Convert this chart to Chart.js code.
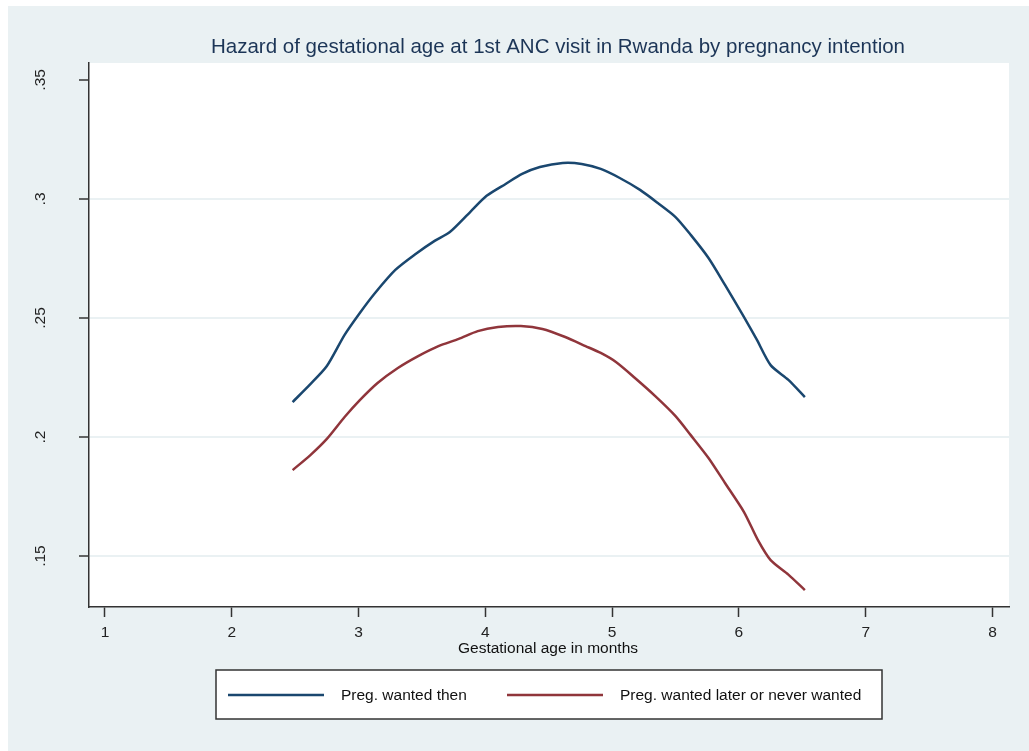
<!DOCTYPE html>
<html>
<head>
<meta charset="utf-8">
<script src="https://cdn.jsdelivr.net/npm/chart.js@4.4.0/dist/chart.umd.min.js"></script>
<style>
  html, body { margin: 0; padding: 0; background: #ffffff; }
  #wrap { width: 1029px; height: 751px; }
</style>
</head>
<body>
<div id="wrap"><canvas id="myChart" width="1029" height="751"></canvas></div>
<script>
// chart text
const chartTitle = "Hazard of gestational age at 1st ANC visit in Rwanda by pregnancy intention";
const xTitle = "Gestational age in months";
const seriesLabels = ["Preg. wanted then", "Preg. wanted later or never wanted"];

// tick labels
const xTicks = [1, 2, 3, 4, 5, 6, 7, 8];
const yTicks = [0.15, 0.2, 0.25, 0.3, 0.35];
const yTickText = [".15", ".2", ".25", ".3", ".35"];

// wanted then
const monthsThen = [2.48, 2.62, 2.75, 2.89, 3.01, 3.13, 3.29, 3.45, 3.60, 3.72, 3.88, 4.01, 4.16, 4.29, 4.43, 4.61, 4.76, 4.91, 5.06, 5.22, 5.36, 5.50, 5.62, 5.76, 5.89, 6.03, 6.14, 6.25, 6.39, 6.52];
const hazardThen = [0.2147, 0.2222, 0.2298, 0.2429, 0.2521, 0.2605, 0.2702, 0.2769, 0.2824, 0.2861, 0.2945, 0.3013, 0.3063, 0.3105, 0.3134, 0.3151, 0.3147, 0.3126, 0.3088, 0.3038, 0.2983, 0.2924, 0.2849, 0.2752, 0.2639, 0.2513, 0.2410, 0.2302, 0.2240, 0.2168];

// wanted later or never wanted
const monthsLater = [2.48, 2.62, 2.75, 2.89, 3.01, 3.15, 3.31, 3.47, 3.63, 3.79, 3.94, 4.10, 4.28, 4.45, 4.63, 4.79, 4.91, 5.03, 5.18, 5.34, 5.50, 5.62, 5.76, 5.89, 6.04, 6.15, 6.25, 6.39, 6.52];
const hazardLater = [0.1861, 0.1924, 0.1992, 0.2084, 0.2155, 0.2227, 0.2290, 0.2340, 0.2382, 0.2412, 0.2445, 0.2462, 0.2466, 0.2454, 0.2420, 0.2382, 0.2353, 0.2315, 0.2248, 0.2172, 0.2088, 0.2008, 0.1912, 0.1807, 0.1685, 0.1567, 0.1483, 0.1422, 0.1357];

const colors = ["#1a476f", "#90353b"];
const bgColor = "#eaf1f3";
const FONT = "'Liberation Sans', Arial, sans-serif";

function toPoints(xs, ys) {
    const pts = [];
    for (let i = 0; i < xs.length; i++) {
        pts.push({x: xs[i], y: ys[i]});
    }
    return pts;
}

// backgrounds, titles, rotated y labels and the boxed legend
const stataLook = {
    id: "stataLook",
    beforeDraw(chart) {
        const ctx = chart.ctx;
        const area = chart.chartArea;
        ctx.save();
        ctx.fillStyle = "#ffffff";
        ctx.fillRect(0, 0, chart.width, chart.height);
        ctx.fillStyle = bgColor;
        ctx.fillRect(8, 6, chart.width - 8, chart.height - 6);
        ctx.fillStyle = "#ffffff";
        ctx.fillRect(area.left, area.top, area.right - area.left, area.bottom - area.top);
        ctx.restore();
    },
    afterDraw(chart) {
        const ctx = chart.ctx;
        const yScale = chart.scales.y;
        ctx.save();
        // title
        ctx.fillStyle = "#1c3557";
        ctx.font = "20.5px " + FONT;
        ctx.textAlign = "center";
        ctx.textBaseline = "middle";
        ctx.fillText(chartTitle, 558, 47);

        // x axis title
        ctx.fillStyle = "#111";
        ctx.font = "15.5px " + FONT;
        ctx.fillText(xTitle, 548, 649);

        // y tick labels, rotated
        ctx.fillStyle = "#222";
        for (let i = 0; i < yTicks.length; i++) {
            const py = yScale.getPixelForValue(yTicks[i]);
            ctx.save();
            ctx.translate(41, py);
            ctx.rotate(-Math.PI / 2);
            ctx.textAlign = "center";
            ctx.textBaseline = "middle";
            ctx.fillText(yTickText[i], 0, 0);
            ctx.restore();
        }

        // legend
        ctx.fillStyle = "#ffffff";
        ctx.fillRect(216, 670, 666, 49);
        ctx.strokeStyle = "#333";
        ctx.lineWidth = 1.5;
        ctx.strokeRect(216, 670, 666, 49);
        const starts = [228, 507];
        chart.data.datasets.forEach((ds, i) => {
            ctx.strokeStyle = ds.borderColor;
            ctx.lineWidth = 2.5;
            ctx.beginPath();
            ctx.moveTo(starts[i], 695);
            ctx.lineTo(starts[i] + 96, 695);
            ctx.stroke();
            ctx.fillStyle = "#111";
            ctx.textAlign = "left";
            ctx.textBaseline = "middle";
            ctx.fillText(ds.label, starts[i] + 113, 696);
        });
        ctx.restore();
    }
};

const ctx = document.getElementById("myChart").getContext("2d");
window.myChart = new Chart(ctx, {
    type: "line",
    data: {
        datasets: [{
            label: seriesLabels[0],
            data: toPoints(monthsThen, hazardThen),
            borderColor: colors[0],
            borderWidth: 2.5,
            pointRadius: 0,
            tension: 0.25,
            fill: false
        }, {
            label: seriesLabels[1],
            data: toPoints(monthsLater, hazardLater),
            borderColor: colors[1],
            borderWidth: 2.5,
            pointRadius: 0,
            tension: 0.25,
            fill: false
        }]
    },
    options: {
        responsive: false,
        animation: false,
        layout: { padding: { top: 63, right: 20, left: 0, bottom: 0 } },
        plugins: {
            legend: { display: false },
            title: { display: false },
            tooltip: { enabled: false }
        },
        scales: {
            x: {
                type: "linear",
                min: 0.874,
                max: 8.13,
                afterBuildTicks: (scale) => { scale.ticks = xTicks.map(v => ({value: v})); },
                afterFit: (scale) => { scale.height = 144; },
                border: { color: "#333", width: 1.5 },
                grid: { drawOnChartArea: false, drawTicks: true, tickLength: 10, tickColor: "#333", tickWidth: 1.5 },
                ticks: { color: "#222", font: { family: FONT, size: 15.5 }, padding: 6, maxRotation: 0 }
            },
            y: {
                type: "linear",
                min: 0.1286,
                max: 0.3571,
                afterBuildTicks: (scale) => { scale.ticks = yTicks.map(v => ({value: v})); },
                afterFit: (scale) => { scale.width = 89; },
                border: { color: "#333", width: 1.5 },
                grid: {
                    color: (c) => (c.tick && c.tick.value === 0.35) ? "rgba(0,0,0,0)" : bgColor,
                    lineWidth: 2,
                    drawTicks: true,
                    tickLength: 10,
                    tickColor: "#333",
                    tickWidth: 1.5
                },
                ticks: { display: false }
            }
        }
    },
    plugins: [stataLook]
});
</script>
</body>
</html>
